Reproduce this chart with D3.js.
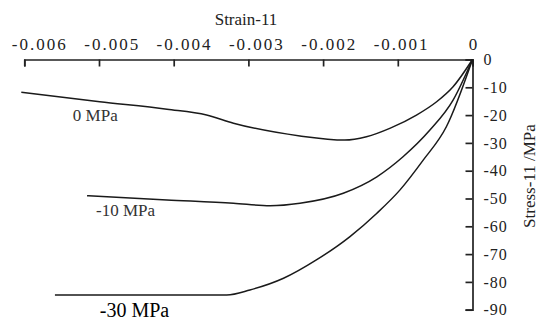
<!DOCTYPE html>
<html>
<head>
<meta charset="utf-8">
<script src="https://cdn.jsdelivr.net/npm/d3@7"></script>
<style>
  body { margin: 0; background: #fff; }
  svg text { font-family: "Liberation Serif", "Times New Roman", serif !important; fill: #222; }
</style>
</head>
<body>
<script>
// strain / stress, per confining pressure
const strain0 = [-0.00604, -0.00499, -0.00409, -0.00356, -0.00320, -0.00231, -0.00171, -0.00142, -0.00110, -0.00075, -0.00048, -0.00026, 0];
const stress0 = [-11.8, -15.2, -17.9, -20.0, -22.9, -27.5, -29.0, -27.8, -24.7, -20.0, -15.2, -9.8, 0];

const strain10 = [-0.00516, -0.00409, -0.00320, -0.00271, -0.00231, -0.00173, -0.00128, -0.00093, -0.00057, -0.00026, 0];
const stress10 = [-49.0, -50.5, -51.7, -52.6, -51.7, -48.1, -42.2, -35.0, -25.4, -14.6, 0];

const strain30 = [-0.00559, -0.00329, -0.00298, -0.00253, -0.00209, -0.00164, -0.00128, -0.00097, -0.00066, -0.00035, 0];
const stress30 = [-84.7, -84.7, -82.9, -78.7, -72.1, -63.7, -55.3, -46.9, -36.2, -24.2, 0];

const xTicks = [-0.006, -0.005, -0.004, -0.003, -0.002, -0.001, 0];
const yTicks = [0, -10, -20, -30, -40, -50, -60, -70, -80, -90];
const seriesLabels = ["0 MPa", "-10 MPa", "-30 MPa"];

const w = 541, h = 320;
const serif = '"Liberation Serif", "Times New Roman", serif';

const svg = d3.select("body").append("svg")
  .attr("width", w)
  .attr("height", h);

const x = d3.scaleLinear().domain([-0.006, 0]).range([24.3, 472.5]);
const y = d3.scaleLinear().domain([0, -90]).range([59.5, 309.7]);

// x axis sits on top, ticks point down into the plot
const xAxis = d3.axisTop(x)
  .tickValues(xTicks)
  .tickSizeInner(-7)
  .tickSizeOuter(-7)
  .tickPadding(10)
  .tickFormat(d => d === 0 ? "0" : d.toFixed(3));

const gx = svg.append("g")
  .attr("transform", "translate(0,59.5)")
  .call(xAxis)
  .attr("font-family", serif);
gx.selectAll("text")
  .style("font-size", "17px")
  .style("letter-spacing", "2px")
  .attr("dx", d => 1 + d / -0.006 * 14);

// y axis on the right, ticks point left
const yAxis = d3.axisRight(y)
  .tickValues(yTicks)
  .tickSizeInner(-7)
  .tickSizeOuter(-7)
  .tickPadding(11)
  .tickFormat(d => String(d));

const gy = svg.append("g")
  .attr("transform", "translate(472.5,0)")
  .call(yAxis)
  .attr("font-family", serif);
gy.selectAll("text")
  .style("font-size", "16px")
  .style("letter-spacing", "1px");

svg.selectAll(".domain, .tick line")
  .attr("stroke", "#222")
  .attr("stroke-width", 1.7);

svg.append("text")
  .attr("x", 246)
  .attr("y", 25)
  .attr("text-anchor", "middle")
  .style("font-size", "17px")
  .text("Strain-11");

svg.append("text")
  .attr("transform", "translate(535,176) rotate(-90)")
  .attr("text-anchor", "middle")
  .style("font-size", "17px")
  .text("Stress-11 /MPa");

const line = d3.line()
  .x(d => x(d[0]))
  .y(d => y(d[1]))
  .curve(d3.curveMonotoneX);

const series = [
  d3.zip(strain0, stress0),
  d3.zip(strain10, stress10),
  d3.zip(strain30, stress30)
];

svg.selectAll(".curve")
  .data(series)
  .enter()
  .append("path")
  .attr("class", "curve")
  .attr("d", line)
  .attr("fill", "none")
  .attr("stroke", "#1a1a1a")
  .attr("stroke-width", 1.5);

// labels under the left end of each curve
const labelPos = [
  { sx: -0.00535, sy: -22.1, size: 17 },
  { sx: -0.00504, sy: -56.3, size: 17 },
  { sx: -0.00499, sy: -92.6, size: 20 }
];
svg.selectAll(".lbl")
  .data(seriesLabels)
  .enter()
  .append("text")
  .attr("class", "lbl")
  .attr("x", (d, i) => x(labelPos[i].sx))
  .attr("y", (d, i) => y(labelPos[i].sy))
  .style("font-size", (d, i) => labelPos[i].size + "px")
  .style("fill", (d, i) => i === 2 ? "#000" : "#333")
  .text(d => d);
</script>
</body>
</html>
